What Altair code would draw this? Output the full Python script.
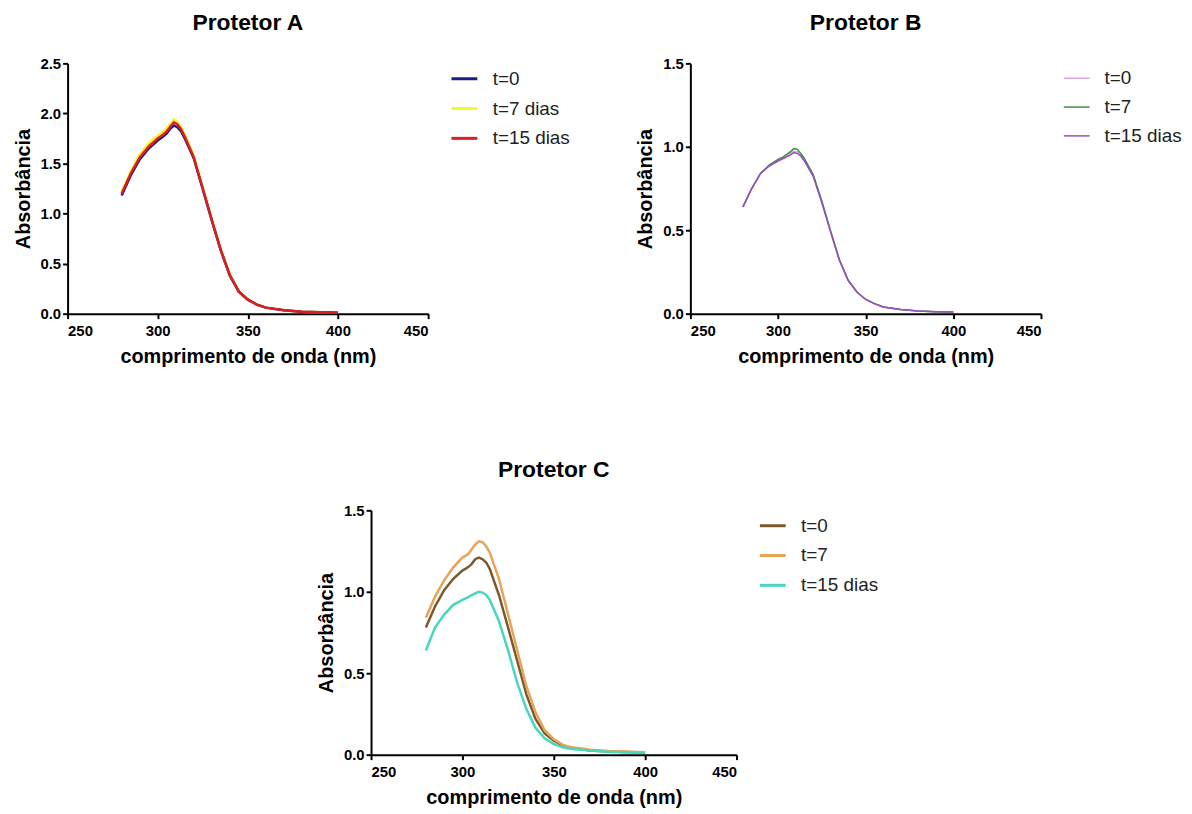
import altair as alt
import pandas as pd

FONT = "Liberation Sans"

# wavelength grid (nm)
wl = [280, 285, 290, 295, 300, 303, 305, 307, 309, 311, 313, 315, 320, 325,
      330, 335, 340, 345, 350, 355, 360, 370, 380, 390, 400]

# Protetor A
a_names = ["t=0", "t=7 dias", "t=15 dias"]
a_colors = ["#1c1c8c", "#f6f62a", "#dc1e1e"]
a_t7 = [1.22, 1.42, 1.59, 1.70, 1.78, 1.82, 1.85, 1.90, 1.94, 1.91, 1.86, 1.79, 1.58, 1.26,
        0.94, 0.64, 0.39, 0.225, 0.14, 0.09, 0.06, 0.035, 0.02, 0.015, 0.01]
a_t0 = [1.18, 1.38, 1.54, 1.65, 1.73, 1.77, 1.80, 1.85, 1.88, 1.86, 1.82, 1.75, 1.55, 1.24,
        0.93, 0.63, 0.38, 0.22, 0.14, 0.09, 0.06, 0.035, 0.02, 0.015, 0.01]
a_t15 = [1.20, 1.40, 1.56, 1.67, 1.75, 1.79, 1.82, 1.87, 1.91, 1.89, 1.84, 1.77, 1.56, 1.25,
         0.935, 0.635, 0.385, 0.22, 0.14, 0.09, 0.06, 0.035, 0.02, 0.015, 0.01]

# Protetor B
b_names = ["t=0", "t=7", "t=15 dias"]
b_colors = ["#dda6e2", "#3a8f3a", "#9c4cc6"]
b_t0 = [0.64, 0.75, 0.84, 0.89, 0.92, 0.935, 0.945, 0.96, 0.975, 0.97, 0.95, 0.92, 0.83, 0.67,
        0.49, 0.32, 0.20, 0.13, 0.085, 0.06, 0.04, 0.025, 0.016, 0.012, 0.01]
b_t7 = [0.64, 0.75, 0.84, 0.89, 0.925, 0.94, 0.955, 0.97, 0.99, 0.985, 0.96, 0.93, 0.835, 0.675,
        0.495, 0.325, 0.20, 0.13, 0.085, 0.06, 0.04, 0.025, 0.016, 0.012, 0.01]
b_t15 = [0.64, 0.75, 0.84, 0.885, 0.915, 0.93, 0.94, 0.95, 0.965, 0.96, 0.945, 0.915, 0.825, 0.665,
         0.49, 0.32, 0.20, 0.13, 0.085, 0.06, 0.04, 0.025, 0.016, 0.012, 0.01]

# Protetor C
c_names = ["t=0", "t=7", "t=15 dias"]
c_colors = ["#7a5a2c", "#e8a456", "#48d6bc"]
c_t0 = [0.78, 0.91, 1.01, 1.08, 1.13, 1.15, 1.17, 1.20, 1.21, 1.20, 1.18, 1.14, 0.98, 0.78,
        0.575, 0.37, 0.22, 0.13, 0.085, 0.055, 0.04, 0.026, 0.02, 0.016, 0.014]
c_t7 = [0.84, 0.97, 1.07, 1.15, 1.21, 1.23, 1.26, 1.29, 1.31, 1.305, 1.28, 1.24, 1.08, 0.86,
        0.64, 0.42, 0.26, 0.15, 0.095, 0.06, 0.045, 0.03, 0.022, 0.018, 0.015]
c_t15 = [0.64, 0.78, 0.86, 0.92, 0.95, 0.965, 0.98, 0.99, 1.00, 0.995, 0.98, 0.95, 0.82, 0.64,
         0.44, 0.28, 0.165, 0.10, 0.065, 0.045, 0.035, 0.025, 0.018, 0.014, 0.012]

x_ticks = [250, 300, 350, 400, 450]


def make_df(names, series, order):
    rows = []
    for idx in order:
        for w, v in zip(wl, series[idx]):
            rows.append({"nm": w, "abs": v, "serie": names[idx]})
    return pd.DataFrame(rows)


def panel(df, title, ymax, yvals, names, colors, sw, w, h, lsw):
    return alt.Chart(df).mark_line(strokeWidth=sw).encode(
        x=alt.X("nm:Q", scale=alt.Scale(domain=[250, 450], nice=False, zero=False),
                axis=alt.Axis(values=x_ticks, title="comprimento de onda (nm)")),
        y=alt.Y("abs:Q", scale=alt.Scale(domain=[0, ymax], nice=False),
                axis=alt.Axis(values=yvals, format=".1f", title="Absorbância")),
        color=alt.Color("serie:N", scale=alt.Scale(domain=names, range=colors),
                        legend=alt.Legend(title=None, orient="none", legendX=w + 22, legendY=1,
                                          symbolType="stroke", symbolSize=676,
                                          symbolStrokeWidth=lsw, labelFontSize=19,
                                          labelFont=FONT, labelColor="#222222",
                                          labelOffset=14, rowPadding=5, padding=0)),
    ).properties(width=w, height=h, title=alt.TitleParams(title, offset=22))


dfa = make_df(a_names, [a_t0, a_t7, a_t15], [1, 0, 2])
dfb = make_df(b_names, [b_t0, b_t7, b_t15], [0, 1, 2])
dfc = make_df(c_names, [c_t0, c_t7, c_t15], [0, 1, 2])

pa = panel(dfa, "Protetor A", 2.5, [0, 0.5, 1.0, 1.5, 2.0, 2.5], a_names, a_colors, 2.5, 363, 252, 3)
pb = panel(dfb, "Protetor B", 1.5, [0, 0.5, 1.0, 1.5], b_names, b_colors, 1.5, 353, 252, 1.5)
pc = panel(dfc, "Protetor C", 1.5, [0, 0.5, 1.0, 1.5], c_names, c_colors, 2.5, 368, 246, 3)

top = alt.hconcat(pa, pb, spacing=66).resolve_scale(color="independent")
chart = alt.vconcat(top, pc, spacing=93, center=True).resolve_scale(
    color="independent"
).properties(
    padding={"left": 5, "top": 1, "right": 2, "bottom": 5}
).configure_view(stroke=None).configure_axis(
    grid=False, domainColor="black", domainWidth=2, tickColor="black", tickWidth=2,
    tickSize=5, labelFont=FONT, labelFontWeight="bold", labelFontSize=15,
    labelColor="black", titleFont=FONT, titleFontWeight="bold", titleFontSize=20,
    titleColor="black"
).configure_axisY(labelPadding=2, titlePadding=7).configure_axisX(
    labelPadding=5, titlePadding=8
).configure_title(font=FONT, fontSize=23, fontWeight="bold", anchor="middle", color="black")

chart.save("out.html", embed_options={"renderer": "svg", "actions": False})
